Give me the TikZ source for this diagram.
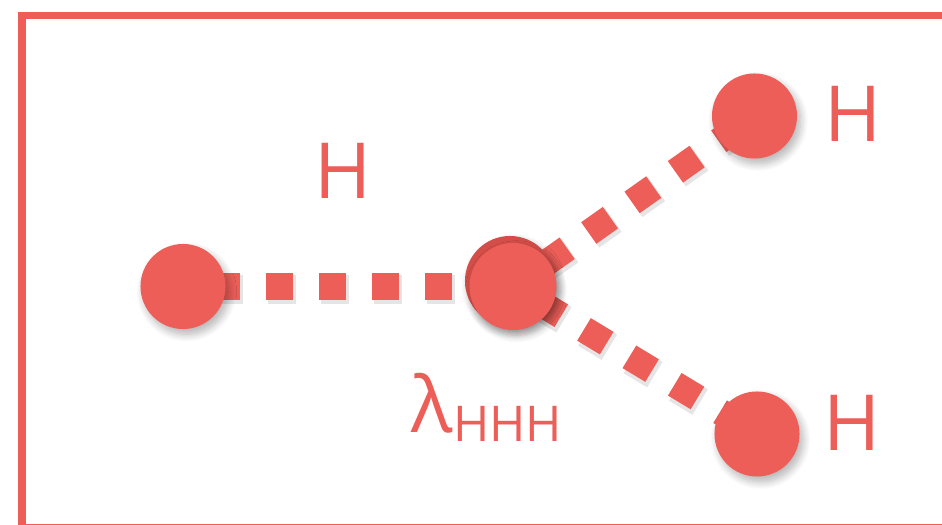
\documentclass[tikz,border=0pt]{standalone}
\usepackage{fontspec}
\setmainfont{Open Sans}
\usepackage{tikz}
\usetikzlibrary{
	calc,
	backgrounds,
	positioning,
	shadows.blur
}
\definecolor{CoralRed}{RGB}{237,94,88}
\definecolor{DeepCoral}{RGB}{212,78,73}

\tikzset{
	atom/.style={circle, fill=CoralRed, inner sep=0pt, minimum size=0.85cm,
		blur shadow={shadow xshift=1pt, shadow yshift=-1.5pt, shadow blur steps=10, shadow opacity=30}},
	bond/.style={CoralRed, line width=7.5pt, dash pattern=on 0.265cm off 0.265cm},
	bondshade/.style={black, opacity=0.10, line width=8.5pt, dash pattern=on 0.275cm off 0.255cm},
	atomlabel/.style={text=CoralRed, inner sep=0pt, font=\fontsize{22}{22}\selectfont}
}

\begin{document}
\begin{tikzpicture}[x=0.01cm, y=-0.01cm]
		\useasboundingbox (0,0) rectangle (942,525);
		\clip (0,0) rectangle (942,525);
		
		% 外框
		\draw[CoralRed, line width=2.1pt] (22,15.5) rectangle (990,527.5);
		
		% 原子
		\node[atom] (hL) at (183,286.5) {};
		\node[atom] (hT) at (754.5,116) {};
		\node[atom] (hB) at (757,434) {};
		\node[atom, fill=DeepCoral, minimum size=0.9cm] (hCb) at (510,281) {};
		\node[atom, minimum size=0.87cm] (hC) at (513,286.5) {};
		
		% 虚线键 (背景层)
		\begin{scope}[on background layer]
			\draw[bondshade, dash phase=0.22cm] ($(hL.center)+(1,3)$) -- ($(hC.center)+(1,3)$);
			\draw[bondshade, dash phase=0.123cm] ($(hC.center)+(1,3)$) -- ($(hT.center)+(1,3)$);
			\draw[bondshade, dash phase=0.221cm] ($(hC.center)+(1,3)$) -- ($(hB.center)+(1,3)$);
			\draw[bond, dash phase=0.23cm] (hL.center) -- (hC.center);
			\draw[bond, dash phase=0.133cm] (hC.center) -- (hT.center);
			\draw[bond, dash phase=0.231cm] (hC.center) -- (hB.center);
		\end{scope}
		
		% 标签
		\node[atomlabel] (lL) at (343.5,171) {H};
		\node[atomlabel] (lT) at (852.7,114) {H};
		\node[atomlabel] (lB) at (852,422.5) {H};
		\node[atomlabel, anchor=base west] (lam) at (411,433)
			{λ\raisebox{-2.5pt}{\fontsize{14}{14}\selectfont HHH}};
	\end{tikzpicture}
\end{document}
